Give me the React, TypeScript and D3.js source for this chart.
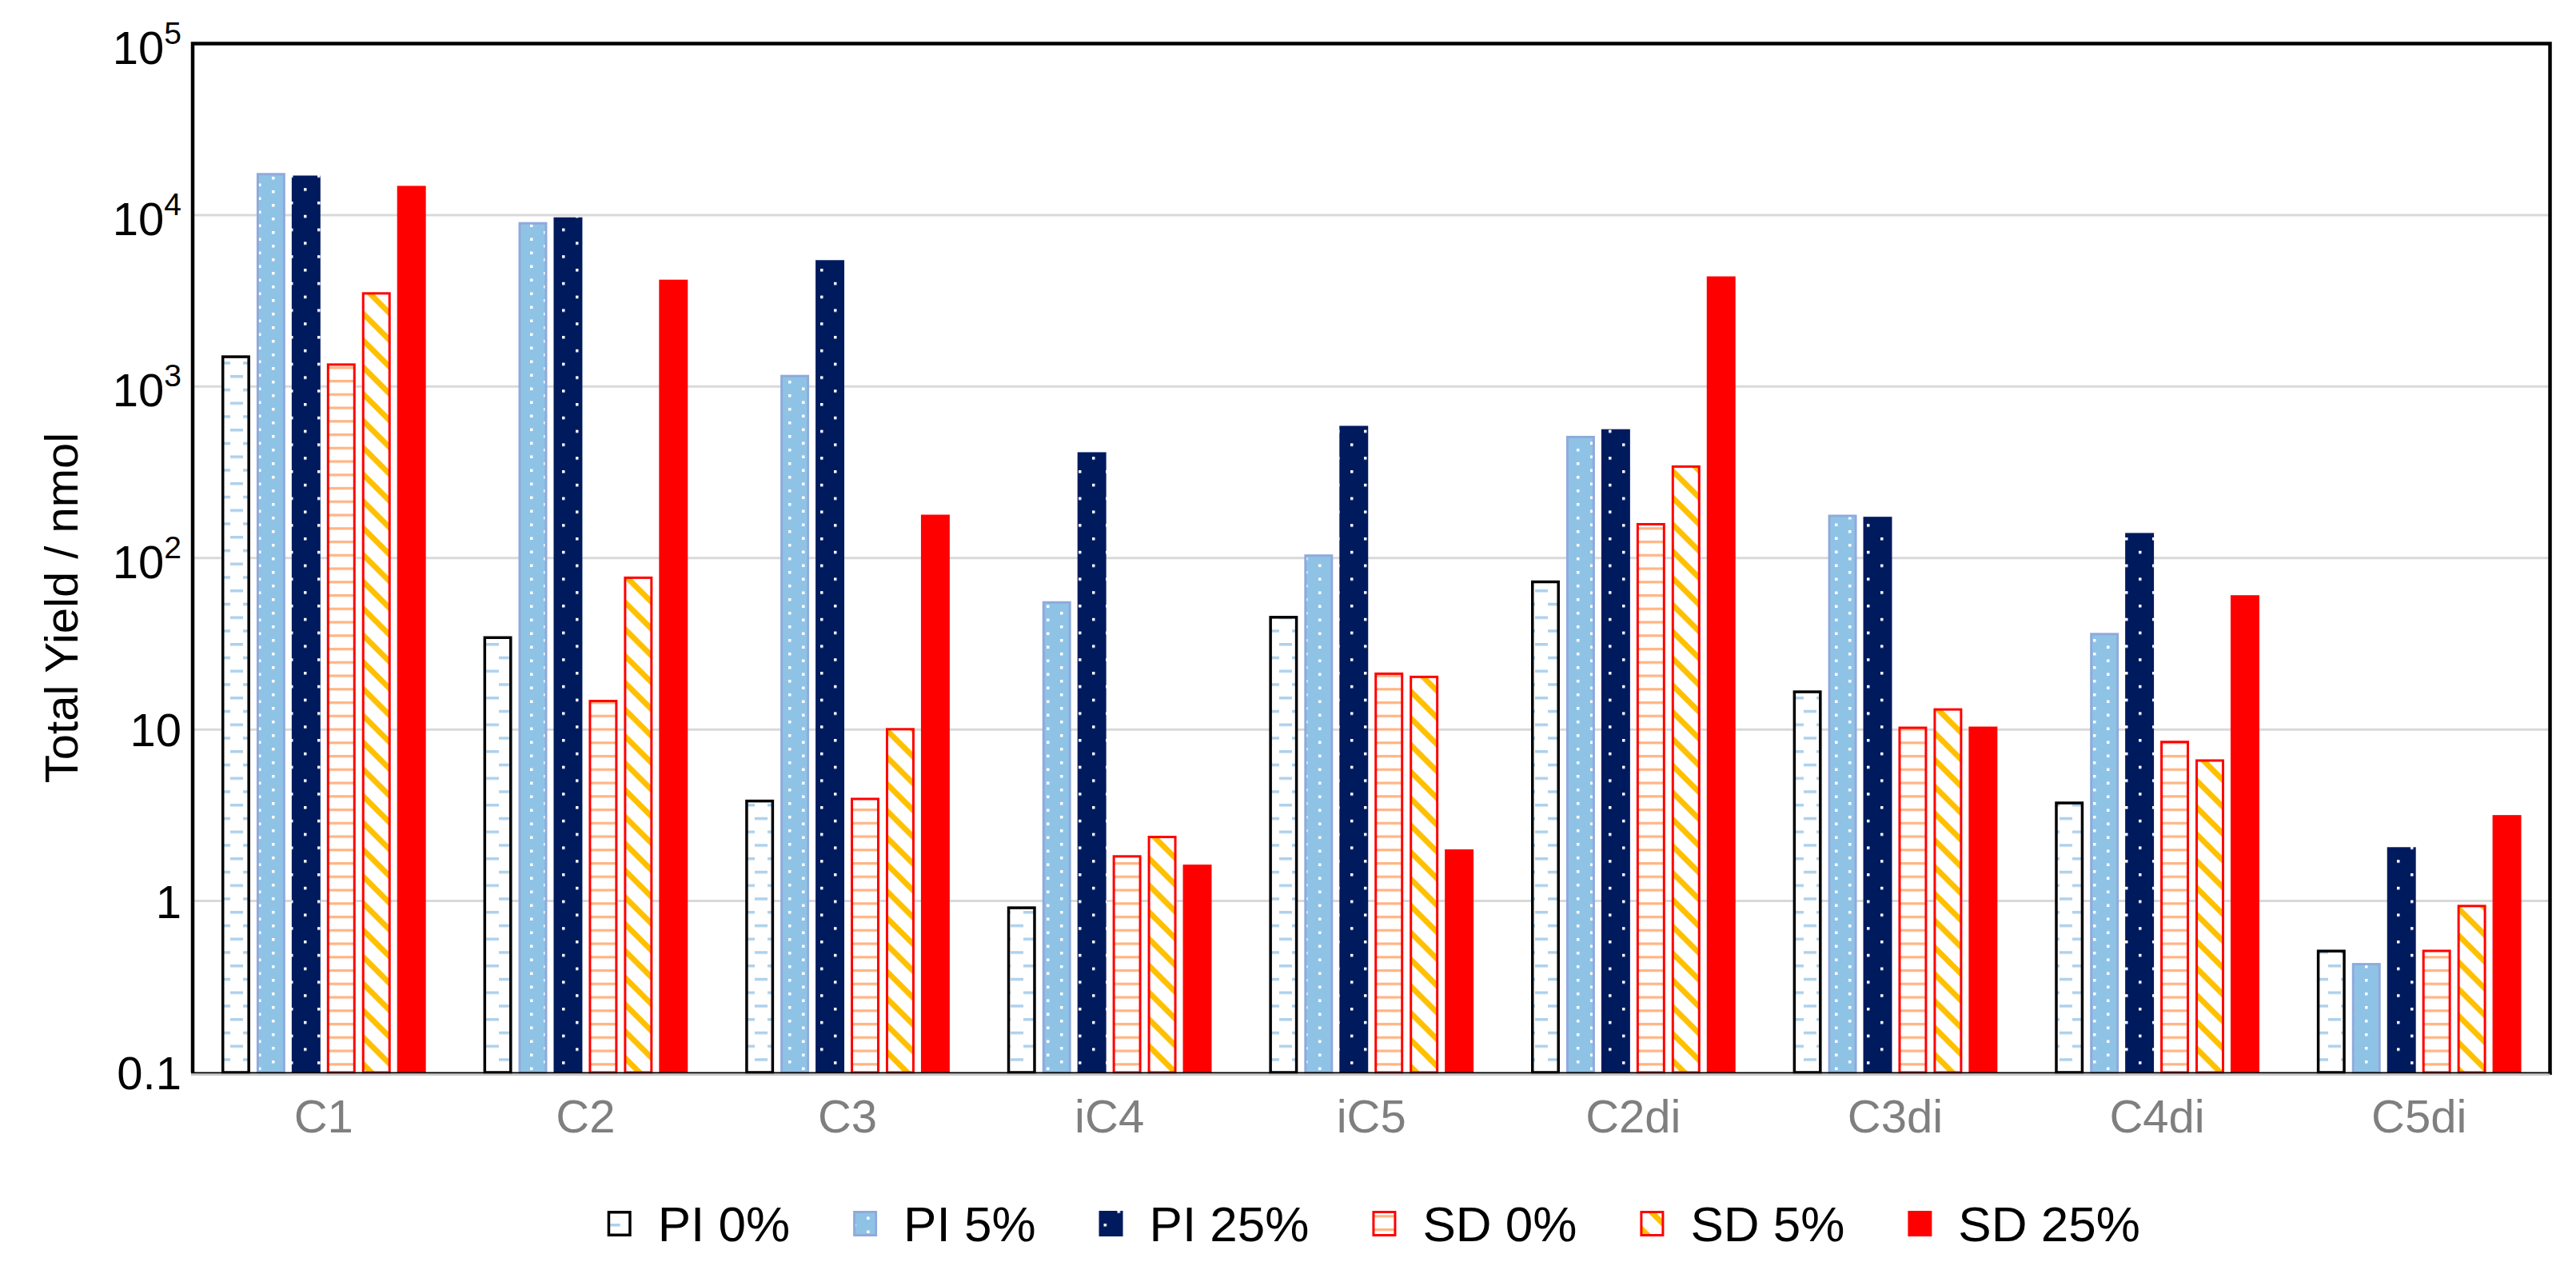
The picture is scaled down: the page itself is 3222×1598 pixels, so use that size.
import * as d3 from "d3";
import React, { useEffect, useRef } from "react";

// chart data
const categories = ["C1", "C2", "C3", "iC4", "iC5", "C2di", "C3di", "C4di", "C5di"];
const seriesNames = ["PI 0%", "PI 5%", "PI 25%", "SD 0%", "SD 5%", "SD 25%"];

const pi0 = [1520, 35, 3.9, 0.93, 46, 74, 16.9, 3.8, 0.52];
const pi5 = [17600, 9100, 1170, 56, 105, 516, 179, 36.6, 0.435];
const pi25 = [17000, 9700, 5460, 414, 590, 564, 174, 140, 2.06];
const sd0 = [1365, 14.9, 4.0, 1.85, 21.5, 160, 10.4, 8.6, 0.52];
const sd5 = [3550, 78, 10.2, 2.4, 20.6, 347, 13.3, 6.7, 0.95];
const sd25 = [14800, 4200, 179, 1.63, 2.0, 4390, 10.4, 60.7, 3.17];

const yTicks = [0.1, 1, 10, 100, 1000, 10000, 100000];
const yTickLabels = [
	["0.1", ""],
	["1", ""],
	["10", ""],
	["10", "2"],
	["10", "3"],
	["10", "4"],
	["10", "5"],
];
const yTitle = "Total Yield / nmol";

const W = 3222;
const H = 1598;
const FONT = "'Liberation Sans', Arial, sans-serif";

const margin = { top: 54.5, right: 32.5, bottom: 257, left: 241 };

const seriesStyles = [
	{ fill: "url(#pat-pi0)", stroke: "#000000", sw: 3.5 },
	{ fill: "url(#pat-pi5)", stroke: "#8faadc", sw: 3 },
	{ fill: "url(#pat-pi25)", stroke: "none", sw: 0 },
	{ fill: "url(#pat-sd0)", stroke: "#ff0000", sw: 3 },
	{ fill: "url(#pat-sd5)", stroke: "#ff0000", sw: 3 },
	{ fill: "#ff0000", stroke: "none", sw: 0 },
];

function addPatterns(defs: d3.Selection<SVGDefsElement, unknown, null, undefined>) {
	// PI 0%: white with staggered light-blue dashes
	const p0 = defs
		.append("pattern")
		.attr("id", "pat-pi0")
		.attr("patternUnits", "userSpaceOnUse")
		.attr("width", 32)
		.attr("height", 33.5);
	p0.append("rect").attr("width", 32).attr("height", 33.5).attr("fill", "#ffffff");
	p0.append("rect").attr("x", 0).attr("y", 0).attr("width", 16).attr("height", 3.5).attr("fill", "#aed1ec");
	p0.append("rect").attr("x", 16).attr("y", 16.75).attr("width", 16).attr("height", 3.5).attr("fill", "#aed1ec");

	// PI 5%: light blue with white dots
	const p5 = defs
		.append("pattern")
		.attr("id", "pat-pi5")
		.attr("patternUnits", "userSpaceOnUse")
		.attr("width", 34)
		.attr("height", 17);
	p5.append("rect").attr("width", 34).attr("height", 17).attr("fill", "#8fc3e6");
	p5.append("rect").attr("x", 0).attr("y", 0).attr("width", 3.5).attr("height", 3.5).attr("fill", "#ffffff");
	p5.append("rect").attr("x", 17).attr("y", 8.5).attr("width", 3.5).attr("height", 3.5).attr("fill", "#ffffff");

	// PI 25%: navy with sparse white dots
	const p25 = defs
		.append("pattern")
		.attr("id", "pat-pi25")
		.attr("patternUnits", "userSpaceOnUse")
		.attr("width", 34)
		.attr("height", 33.6);
	p25.append("rect").attr("width", 34).attr("height", 33.6).attr("fill", "#001a5e");
	p25.append("rect").attr("x", 6).attr("y", 0).attr("width", 3.5).attr("height", 3.5).attr("fill", "#ffffff");
	p25.append("rect").attr("x", 23).attr("y", 16.8).attr("width", 3.5).attr("height", 3.5).attr("fill", "#ffffff");

	// SD 0%: white with peach horizontal lines
	const s0 = defs
		.append("pattern")
		.attr("id", "pat-sd0")
		.attr("patternUnits", "userSpaceOnUse")
		.attr("width", 8)
		.attr("height", 16.75);
	s0.append("rect").attr("width", 8).attr("height", 16.75).attr("fill", "#ffffff");
	s0.append("rect").attr("y", 6).attr("width", 8).attr("height", 3.2).attr("fill", "#ffb482");

	// SD 5%: white with wide downward diagonal gold stripes
	const s5 = defs
		.append("pattern")
		.attr("id", "pat-sd5")
		.attr("patternUnits", "userSpaceOnUse")
		.attr("width", 10)
		.attr("height", 23.7)
		.attr("patternTransform", "rotate(45)");
	s5.append("rect").attr("width", 10).attr("height", 23.7).attr("fill", "#ffffff");
	s5.append("rect").attr("width", 10).attr("height", 7).attr("fill", "#ffc000");
}

export default function App() {
	const svgRef = useRef<SVGSVGElement>(null);

	useEffect(() => {
		const svg = d3.select(svgRef.current);
		svg.selectAll("*").remove();

		const defs = svg.append("defs");
		addPatterns(defs);

		const x0 = margin.left;
		const x1 = W - margin.right;
		const yTop = margin.top;
		const yBot = H - margin.bottom;

		const y = d3.scaleLog().domain([0.1, 100000]).range([yBot, yTop]);
		const xGroup = d3.scaleBand<string>().domain(categories).range([x0, x1]).padding(0);
		const xSeries = d3
			.scaleBand<string>()
			.domain(seriesNames)
			.range([0, xGroup.step()])
			.paddingInner(0.182)
			.paddingOuter(0.818);

		// gridlines
		svg
			.append("g")
			.selectAll("line")
			.data(yTicks.filter((t) => t > 0.1 && t < 100000))
			.join("line")
			.attr("x1", x0 + 2)
			.attr("x2", x1 - 2)
			.attr("y1", (d) => y(d))
			.attr("y2", (d) => y(d))
			.attr("stroke", "#d9d9d9")
			.attr("stroke-width", 3);

		// bars
		const allSeries = [pi0, pi5, pi25, sd0, sd5, sd25];
		const bw = xSeries.bandwidth();
		allSeries.forEach((vals, si) => {
			const st = seriesStyles[si];
			const inset = st.sw / 2;
			svg
				.append("g")
				.selectAll("rect")
				.data(vals)
				.join("rect")
				.attr("x", (_, i) => (xGroup(categories[i]) ?? 0) + (xSeries(seriesNames[si]) ?? 0) + inset)
				.attr("y", (d) => y(d) + inset)
				.attr("width", bw - st.sw)
				.attr("height", (d) => Math.max(0, yBot - y(d) - inset))
				.attr("fill", st.fill)
				.attr("stroke", st.stroke)
				.attr("stroke-width", st.sw);
		});

		// frame
		svg
			.append("path")
			.attr("d", `M${x0},${yBot} V${yTop} H${x1} V${yBot + 3}`)
			.attr("fill", "none")
			.attr("stroke", "#000")
			.attr("stroke-width", 4.5);
		svg
			.append("line")
			.attr("x1", x0 - 2)
			.attr("x2", x1 + 2)
			.attr("y1", yBot + 0.5)
			.attr("y2", yBot + 0.5)
			.attr("stroke", "#000")
			.attr("stroke-width", 2);
		svg
			.append("line")
			.attr("x1", x0 - 2)
			.attr("x2", x1)
			.attr("y1", yBot + 2.8)
			.attr("y2", yBot + 2.8)
			.attr("stroke", "#c8c8c8")
			.attr("stroke-width", 2.5);

		// y tick labels
		const yl = svg
			.append("g")
			.attr("font-family", FONT)
			.attr("font-size", 58)
			.attr("fill", "#000");
		yTicks.forEach((t, i) => {
			const [base, sup] = yTickLabels[i];
			const txt = yl
				.append("text")
				.attr("x", x0 - 14)
				.attr("y", y(t) + (sup ? 25 : 21))
				.attr("text-anchor", "end");
			txt.append("tspan").text(base);
			if (sup) {
				txt.append("tspan").attr("font-size", 39).attr("dy", -25).text(sup);
			}
		});

		// y title
		svg
			.append("text")
			.attr("transform", `translate(97,760) rotate(-90)`)
			.attr("text-anchor", "middle")
			.attr("font-family", FONT)
			.attr("font-size", 58)
			.attr("fill", "#000")
			.text(yTitle);

		// x labels
		svg
			.append("g")
			.selectAll("text")
			.data(categories)
			.join("text")
			.attr("x", (d) => (xGroup(d) ?? 0) + xGroup.bandwidth() / 2)
			.attr("y", yBot + 75)
			.attr("text-anchor", "middle")
			.attr("font-family", FONT)
			.attr("font-size", 58)
			.attr("fill", "#7f7f7f")
			.text((d) => d);

		// legend
		const legend = svg.append("g").attr("font-family", FONT).attr("font-size", 62);
		const textOffset = 63;
		const gap = 79;
		const items = seriesNames.map((name, i) => {
			const st = seriesStyles[i];
			const g = legend.append("g");
			const inset = st.sw / 2;
			g.append("rect")
				.attr("x", inset)
				.attr("y", -16 + inset)
				.attr("width", 30 - st.sw)
				.attr("height", 32 - st.sw)
				.attr("fill", st.fill)
				.attr("stroke", st.stroke)
				.attr("stroke-width", st.sw);
			const t = g.append("text").attr("x", textOffset).attr("y", 22).attr("fill", "#000").text(name);
			const w = (t.node() as SVGTextElement).getComputedTextLength();
			return { g, w };
		});
		const total = d3.sum(items, (d) => textOffset + d.w) + gap * (items.length - 1);
		let lx = (x0 + x1) / 2 - total / 2 + 3;
		items.forEach((it) => {
			it.g.attr("transform", `translate(${lx},1530)`);
			lx += textOffset + it.w + gap;
		});
	}, []);

	return (
		<svg
			ref={svgRef}
			width={W}
			height={H}
			viewBox={`0 0 ${W} ${H}`}
			style={{ position: "absolute", left: 0, top: 0, background: "#fff", display: "block" }}
		/>
	);
}
